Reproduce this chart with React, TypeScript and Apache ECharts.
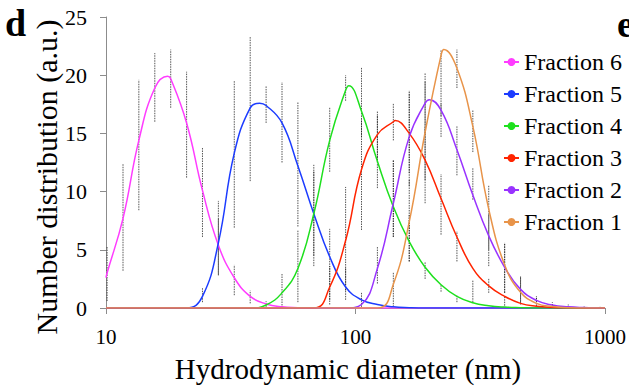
import React, { useEffect, useRef } from "react";
import * as echarts from "echarts";

const FONT = "'Liberation Serif', 'Times New Roman', serif";

const seriesNames = ["Fraction 6", "Fraction 5", "Fraction 4", "Fraction 3", "Fraction 2", "Fraction 1"];
const seriesColors = ["#ff3cff", "#1c3cff", "#1ee01e", "#ff2400", "#9933ff", "#e8944a"];

const xTickValues = [10, 100, 1000];
const yTickLabels = [0, 5, 10, 15, 20, 25];

// fitted curves: [diameter (nm), number distribution]
const fraction6Curve = [[10, 2.6], [10.1, 3.0], [11.7, 7.7], [13.54, 14.4], [15.69, 18.9], [17.65, 19.9], [18.17, 19.7], [21.04, 15.9], [24.36, 10.1], [28.21, 5.4], [32.67, 2.6], [37.84, 1.0], [43.82, 0.35], [50.75, 0.1], [58.77, 0.03], [68.06, 0], [1000, 0]];
const fraction5Curve = [[10, 0], [21.04, 0], [24.36, 1.0], [28.21, 5.6], [32.67, 13.3], [37.84, 17.2], [41.3, 17.6], [43.82, 17.4], [50.75, 15.9], [58.77, 12.2], [68.06, 8.1], [78.82, 4.4], [91.28, 1.8], [105.7, 0.7], [122.4, 0.3], [141.8, 0.1], [164.2, 0.03], [190.1, 0], [1000, 0]];
const fraction4Curve = [[10, 0], [37.84, 0], [43.82, 0.26], [50.75, 1.3], [58.77, 3.4], [68.06, 8.1], [78.82, 14.4], [91.28, 18.7], [94.0, 19.1], [105.7, 16.9], [122.4, 12.6], [141.8, 8.7], [164.2, 5.7], [190.1, 3.5], [220.2, 2.0], [255.0, 1.0], [295.3, 0.45], [342.0, 0.2], [396.1, 0.08], [458.7, 0.03], [531.2, 0], [1000, 0]];
const fraction3Curve = [[10, 0], [68.06, 0], [78.82, 1.8], [91.28, 5.8], [105.7, 11.9], [122.4, 14.9], [141.8, 16.0], [144.1, 16.1], [164.2, 15.0], [190.1, 12.7], [220.2, 9.4], [255.0, 6.1], [295.3, 3.4], [342.0, 1.9], [396.1, 1.0], [458.7, 0.4], [531.2, 0.15], [615.1, 0.05], [712.4, 0.02], [825.0, 0], [1000, 0]];
const fraction2Curve = [[10, 0], [91.28, 0], [105.7, 0.3], [122.4, 3.4], [141.8, 9.0], [164.2, 14.7], [190.1, 17.6], [197.7, 17.9], [220.2, 17.0], [255.0, 13.6], [295.3, 9.7], [342.0, 6.2], [396.1, 3.5], [458.7, 1.6], [531.2, 0.65], [615.1, 0.25], [712.4, 0.1], [825.0, 0.04], [955.4, 0.01], [1000, 0]];
const fraction1Curve = [[10, 0], [122.4, 0], [141.8, 2.05], [164.2, 7.4], [190.1, 15.1], [220.2, 21.7], [226.0, 22.2], [255.0, 20.6], [295.3, 15.6], [342.0, 8.5], [396.1, 3.7], [458.7, 1.35], [531.2, 0.4], [615.1, 0.12], [712.4, 0.03], [825.0, 0], [1000, 0]];

// error bars: [diameter (nm), low, high]
const errorBars6 = [[10.1, 0.6, 5.3], [11.7, 3.2, 12.4], [13.54, 8.4, 19.6], [15.69, 16.0, 21.9], [18.17, 17.2, 22.2], [21.04, 11.2, 20.3], [24.36, 6.1, 13.8], [28.21, 2.9, 9.2], [32.67, 1.1, 3.7], [37.84, 0.4, 1.5], [43.82, 0.1, 0.6]];
const errorBars5 = [[24.36, 0.5, 1.7], [28.21, 2.8, 7.7], [32.67, 6.9, 19.5], [37.84, 10.9, 23.3], [43.82, 15.9, 19.1], [50.75, 12.5, 19.4], [58.77, 7.0, 17.7], [68.06, 3.6, 12.3], [78.82, 0.7, 6.8], [91.28, 0.7, 3.5], [105.7, 0.1, 1.3]];
const errorBars4 = [[50.75, 0, 3.0], [58.77, 0.5, 6.7], [68.06, 4.5, 11.8], [78.82, 11.7, 17.2], [91.28, 17.8, 20.0], [105.7, 14.7, 20.7], [122.4, 10.3, 16.9], [141.8, 6.1, 12.7], [164.2, 4.0, 8.0], [190.1, 2.5, 4.0], [220.2, 1.4, 2.0], [255.0, 0.5, 1.1]];
const errorBars3 = [[78.82, 0.3, 3.6], [91.28, 1.5, 10.4], [105.7, 6.7, 16.2], [122.4, 12.5, 16.5], [141.8, 14.4, 17.6], [164.2, 11.6, 18.7], [190.1, 9.0, 15.5], [220.2, 6.3, 11.5], [255.0, 4.0, 6.6], [295.3, 0.5, 2.4], [342.0, 1.3, 2.5], [396.1, 0.2, 1.0]];
const errorBars2 = [[122.4, 2.1, 5.3], [141.8, 6.1, 12.7], [164.2, 10.5, 18.5], [190.1, 15.0, 19.5], [220.2, 16.5, 17.6], [255.0, 11.4, 15.6], [295.3, 9.3, 12.0], [342.0, 3.6, 8.0], [396.1, 1.3, 5.6], [458.7, 0.4, 2.7], [531.2, 0.1, 1.0], [615.1, 0, 0.5], [712.4, 0, 0.3], [825.0, 0, 0.2], [955.4, 0, 0.1]];
const errorBars1 = [[141.8, 0.1, 3.1], [164.2, 4.0, 11.0], [190.1, 11.0, 20.2], [220.2, 14.7, 22.2], [255.0, 18.9, 22.2], [295.3, 13.4, 17.0], [342.0, 5.0, 10.5], [396.1, 1.3, 5.6], [458.7, 0.3, 2.7], [531.2, 0.1, 1.0], [615.1, 0, 0.4]];

const curves = [fraction6Curve, fraction5Curve, fraction4Curve, fraction3Curve, fraction2Curve, fraction1Curve];
const allErrorBars = [...errorBars6, ...errorBars5, ...errorBars4, ...errorBars3, ...errorBars2, ...errorBars1];

export default function App() {
  const ref = useRef<HTMLDivElement>(null);
  useEffect(() => {
    if (!ref.current) return;
    const chart = echarts.init(ref.current, undefined, { renderer: "svg" });
    const option: any = {
      animation: false,
      backgroundColor: "#ffffff",
      grid: { left: 106, right: 23, top: 17, bottom: 81 },
      legend: {
        data: seriesNames,
        orient: "vertical",
        left: 503,
        top: 46,
        padding: 0,
        itemWidth: 15,
        itemHeight: 10,
        itemGap: 0,
        textStyle: { fontFamily: FONT, fontSize: 24, color: "#000", lineHeight: 22, padding: [10, 0, 0, 0] },
      },
      xAxis: {
        type: "log",
        logBase: 10,
        min: xTickValues[0],
        max: xTickValues[xTickValues.length - 1],
        axisLine: { show: true, lineStyle: { color: "#8c8c8c", width: 1 } },
        axisTick: { show: true, length: 6, lineStyle: { color: "#8c8c8c" } },
        minorTick: { show: false },
        splitLine: { show: false },
        axisLabel: { fontFamily: FONT, fontSize: 21, color: "#000", margin: 18, formatter: (v: number) => String(Math.round(v)) },
      },
      yAxis: {
        type: "value",
        min: yTickLabels[0],
        max: yTickLabels[yTickLabels.length - 1],
        interval: 5,
        axisLine: { show: true, lineStyle: { color: "#8c8c8c", width: 1 } },
        axisTick: { show: true, length: 6, lineStyle: { color: "#8c8c8c" } },
        splitLine: { show: false },
        axisLabel: { fontFamily: FONT, fontSize: 22, color: "#000", margin: 19 },
      },
      graphic: [
        { type: "text", x: 5, y: 23, style: { text: "d", font: `bold 38px ${FONT}`, fill: "#000", textAlign: "left", textVerticalAlign: "middle" } },
        { type: "text", x: 617, y: 24, style: { text: "e", font: `bold 38px ${FONT}`, fill: "#000", textAlign: "left", textVerticalAlign: "middle" } },
        { type: "text", x: 348, y: 369, style: { text: "Hydrodynamic diameter (nm)", font: `29px ${FONT}`, fill: "#000", textAlign: "center", textVerticalAlign: "middle" } },
        { type: "text", x: 46, y: 177, rotation: Math.PI / 2, style: { text: "Number distribution (a.u.)", font: `30px ${FONT}`, fill: "#000", textAlign: "center", textVerticalAlign: "middle" } },
      ],
      series: [
        {
          type: "custom",
          name: "errorBars",
          z: 1,
          data: allErrorBars,
          encode: { x: 0, y: [1, 2] },
          renderItem: (params: any, api: any) => {
            const p1 = api.coord([api.value(0), api.value(1)]);
            const p2 = api.coord([api.value(0), api.value(2)]);
            return {
              type: "line",
              shape: { x1: p1[0], y1: p1[1], x2: p2[0], y2: p2[1] },
              style: { stroke: "rgba(30,30,30,0.75)", lineWidth: 1, lineDash: [1.5, 1] },
            };
          },
        },
        ...seriesNames.map((name, i) => ({
          type: "line",
          name,
          z: 2,
          data: curves[i],
          smooth: 0.45,
          symbol: "none",
          lineStyle: { color: seriesColors[i], width: 1.5 },
          itemStyle: { color: seriesColors[i] },
        })),
      ],
    };
    chart.setOption(option);
    return () => chart.dispose();
  }, []);
  return <div ref={ref} style={{ position: "fixed", left: 0, top: 0, width: 629, height: 389 }} />;
}
